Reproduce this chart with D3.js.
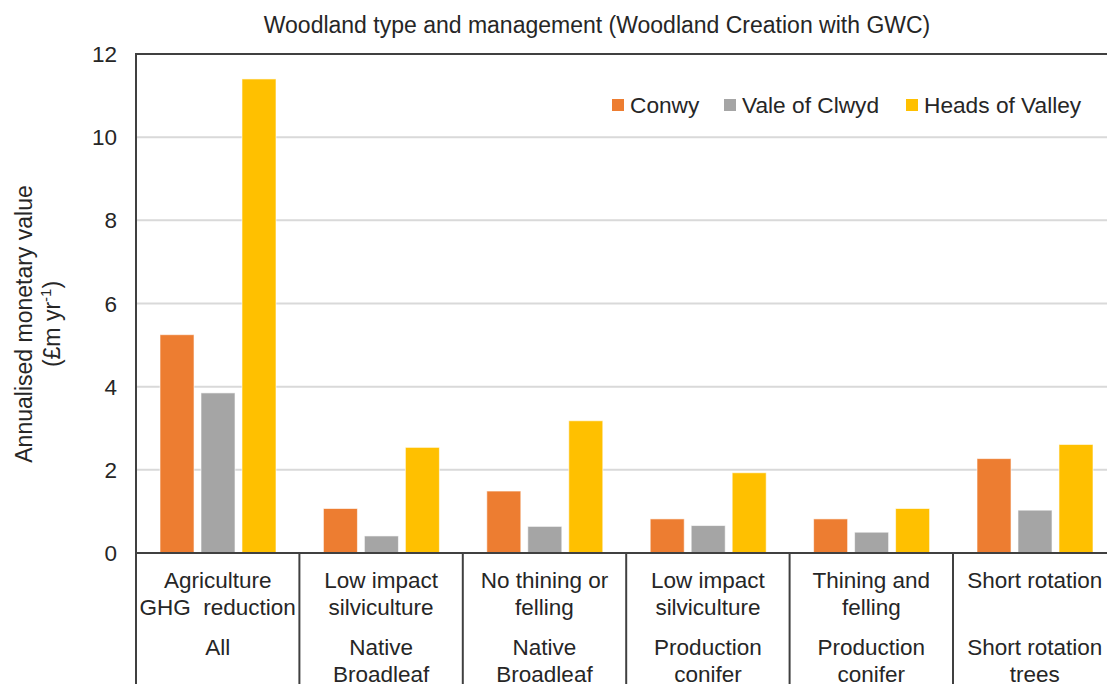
<!DOCTYPE html>
<html><head><meta charset="utf-8">
<script src="https://cdn.jsdelivr.net/npm/d3@7"></script>
<style>body{margin:0;background:#fff;} text{font-family:Arial,"Liberation Sans",sans-serif;fill:#262626;}</style>
</head><body><svg id="c" width="1107" height="684"></svg>
<script>
const categories = ["g1","g2","g3","g4","g5","g6"];
const labelsTop = [["Agriculture","GHG  reduction"],["Low impact","silviculture"],["No thining or","felling"],["Low impact","silviculture"],["Thining and","felling"],["Short rotation"]];
const labelsBottom = [["All"],["Native","Broadleaf"],["Native","Broadleaf"],["Production","conifer"],["Production","conifer"],["Short rotation","trees"]];
const series = ["Conwy","Vale of Clwyd","Heads of Valley"];
const conwy = [5.25, 1.07, 1.49, 0.82, 0.82, 2.27];
const valeOfClwyd = [3.85, 0.41, 0.64, 0.66, 0.50, 1.03];
const headsOfValley = [11.4, 2.54, 3.18, 1.93, 1.07, 2.61];
const yTicks = [0,2,4,6,8,10,12];
const colors = ["#ED7D31","#A5A5A5","#FFC000"];
const title = "Woodland type and management (Woodland Creation with GWC)";

const svg = d3.select("#c");
const L=136, R=1116.4, T=54, B=553;
const x = d3.scaleBand().domain(categories).range([L,R]);
const x1 = d3.scaleBand().domain(series).range([24,140]).paddingInner(0.17);
const y = d3.scaleLinear().domain([0,12]).range([B,T]);
const color = d3.scaleOrdinal().domain(series).range(colors);

// gridlines
svg.append("g").selectAll("line").data(yTicks.filter(d=>d>0&&d<12)).join("line")
  .attr("x1",L).attr("x2",R).attr("y1",d=>y(d)).attr("y2",d=>y(d))
  .attr("stroke","#d9d9d9").attr("stroke-width",2);

// y tick labels
svg.append("g").selectAll("text").data(yTicks).join("text")
  .attr("x",117).attr("y",d=>y(d)).attr("dy","0.36em").attr("text-anchor","end")
  .style("font-size","22.5px").text(d=>d);

// bars
const vals = [conwy, valeOfClwyd, headsOfValley];
const barData = [];
categories.forEach((c,i)=>series.forEach((s,j)=>barData.push({c,s,v:vals[j][i]})));
svg.append("g").selectAll("rect").data(barData).join("rect")
  .attr("x",d=>x(d.c)+x1(d.s)).attr("width",x1.bandwidth())
  .attr("y",d=>y(d.v)).attr("height",d=>B-y(d.v))
  .attr("fill",d=>color(d.s)).attr("stroke","#fff").attr("stroke-opacity",0.6).attr("stroke-width",1);

// frame
svg.append("line").attr("x1",L).attr("x2",L).attr("y1",T).attr("y2",684).attr("stroke","#404040").attr("stroke-width",2);
svg.append("line").attr("x1",L-1).attr("x2",R).attr("y1",T).attr("y2",T).attr("stroke","#404040").attr("stroke-width",2);
svg.append("line").attr("x1",L).attr("x2",R).attr("y1",B).attr("y2",B).attr("stroke","#404040").attr("stroke-width",2);
svg.append("g").selectAll("line").data(categories.slice(1)).join("line")
  .attr("x1",d=>x(d)).attr("x2",d=>x(d)).attr("y1",B).attr("y2",684)
  .attr("stroke","#404040").attr("stroke-width",2);

// category labels
const catG = svg.append("g");
categories.forEach((c,i)=>{
  const cx = x(c)+x.bandwidth()/2;
  labelsTop[i].forEach((t,k)=>catG.append("text").attr("x",cx).attr("y",588+k*27)
    .attr("text-anchor","middle").attr("xml:space","preserve").style("white-space","pre").style("font-size","22.5px").text(t));
  labelsBottom[i].forEach((t,k)=>catG.append("text").attr("x",cx).attr("y",655+k*27)
    .attr("text-anchor","middle").style("font-size","22.5px").text(t));
});

// title
svg.append("text").attr("x",597).attr("y",33).attr("text-anchor","middle")
  .style("font-size","23px").text(title);

// legend
const legX = [612,724,906];
const lg = svg.append("g").selectAll("g").data(series).join("g");
lg.append("rect").attr("x",(d,i)=>legX[i]).attr("y",99).attr("width",12).attr("height",12).attr("fill",d=>color(d));
lg.append("text").attr("x",(d,i)=>legX[i]+18).attr("y",113).style("font-size","22.7px").text(d=>d);

// y axis title
const yt = svg.append("g").attr("transform","translate(0,324) rotate(-90)");
yt.append("text").attr("x",0).attr("y",32).attr("text-anchor","middle").style("font-size","23px").text("Annualised monetary value");
const t2 = yt.append("text").attr("x",0).attr("y",60).attr("text-anchor","middle").style("font-size","23px");
t2.append("tspan").text("(£m yr");
t2.append("tspan").attr("dy",-9).style("font-size","15px").text("-1");
t2.append("tspan").attr("dy",9).text(")");
</script></body></html>
